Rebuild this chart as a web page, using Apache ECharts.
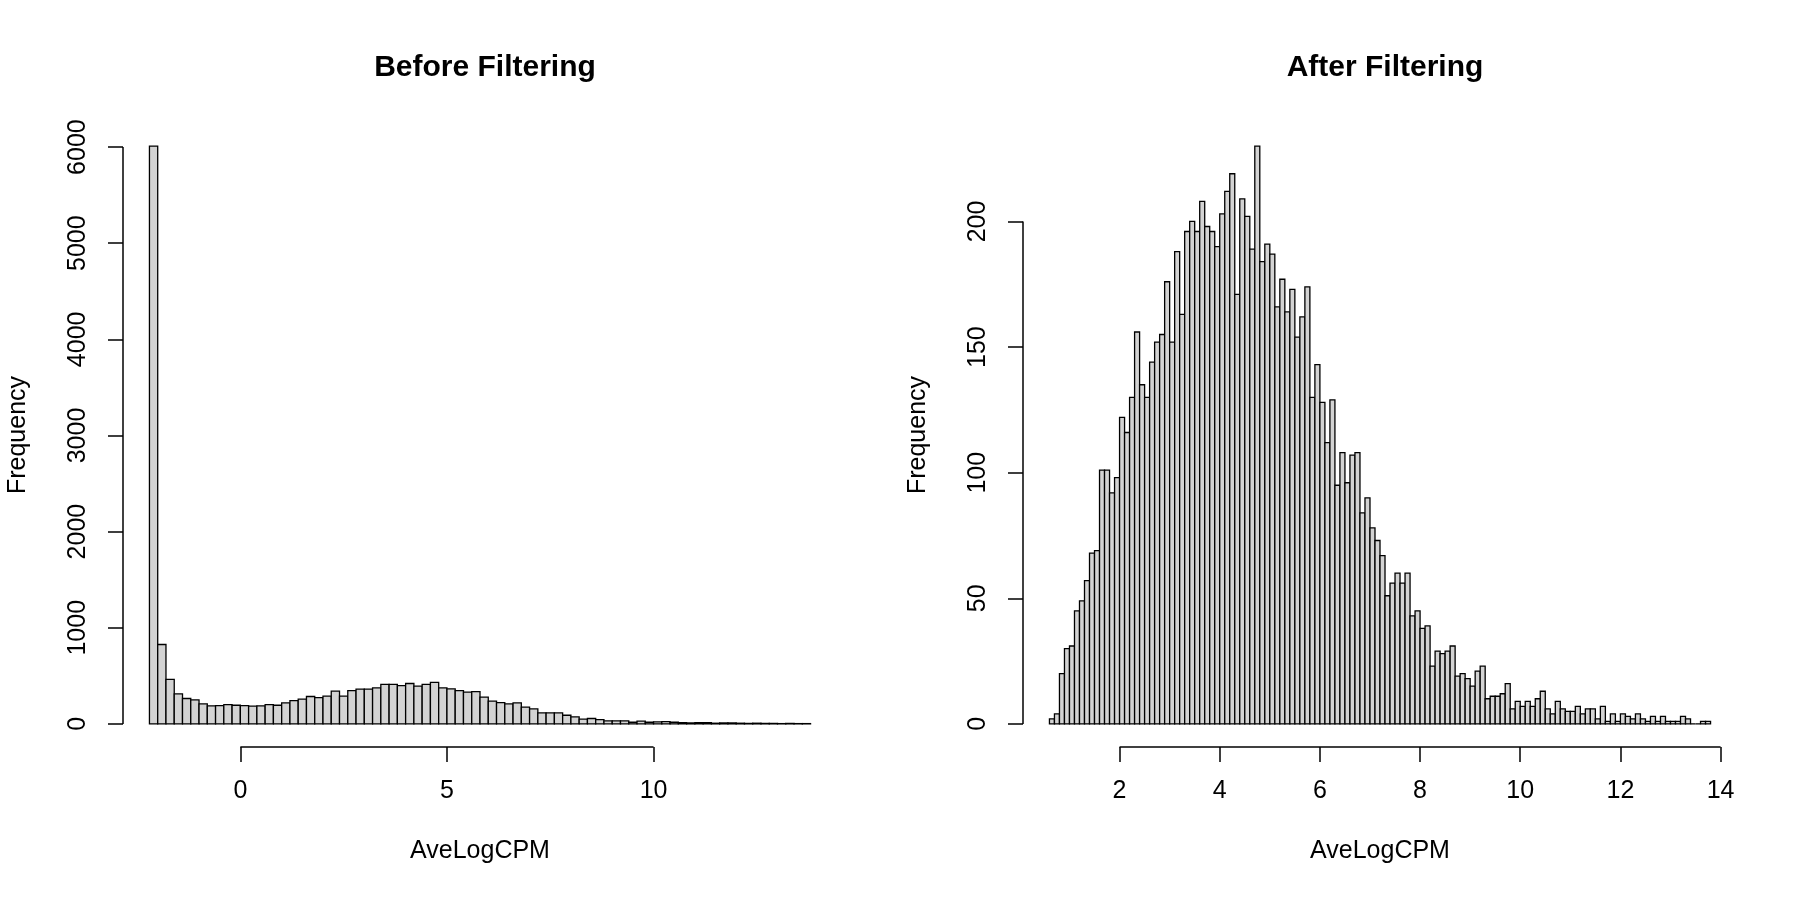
<!DOCTYPE html>
<html>
<head>
<meta charset="utf-8">
<script src="https://cdn.jsdelivr.net/npm/echarts@6/dist/echarts.min.js"></script>
<style>
  html, body { margin: 0; padding: 0; background: #fff; }
  #main { width: 1800px; height: 900px; }
</style>
</head>
<body>
<div id="main"></div>
<script>
// histogram bins: first break and bin width
var beforeStart = -2.2, beforeWidth = 0.2;
var afterStart = 0.6, afterWidth = 0.1;

// counts per bin
var beforeCounts = [
  6010, 826, 462, 312, 264, 250, 208, 188, 191, 201,
  194, 191, 184, 188, 201, 194, 219, 243, 257, 285,
  274, 288, 340, 288, 347, 361, 361, 375, 410, 410,
  399, 420, 392, 410, 431, 375, 365, 347, 330, 335,
  278, 236, 222, 208, 219, 174, 156, 115, 115, 115,
  90, 73, 49, 56, 45, 31, 31, 31, 17, 28,
  17, 21, 24, 17, 14, 10, 14, 14, 7, 10,
  10, 7, 5, 7, 5, 5, 3, 5, 3, 3
];
var afterCounts = [
  2, 4, 20, 30, 31, 45, 49, 57, 68, 69,
  101, 101, 92, 98, 122, 116, 130, 156, 135, 130,
  144, 152, 155, 176, 152, 188, 163, 196, 200, 196,
  208, 198, 196, 190, 203, 212, 219, 171, 209, 202,
  189, 230, 184, 191, 187, 166, 177, 164, 173, 154,
  162, 174, 130, 143, 128, 112, 129, 95, 108, 96,
  107, 108, 84, 90, 78, 73, 67, 51, 56, 60,
  56, 60, 43, 45, 38, 39, 23, 29, 28, 29,
  31, 19, 20, 18, 15, 21, 23, 10, 11, 11,
  12, 16, 6, 9, 7, 9, 7, 10, 13, 6,
  4, 9, 6, 5, 5, 7, 4, 6, 6, 2,
  7, 1, 4, 1, 4, 3, 2, 4, 2, 1,
  3, 1, 3, 1, 1, 1, 3, 2, 0, 0,
  1, 1
];

// tick labels
var beforeXTicks = [0, 5, 10];
var beforeYTicks = [0, 1000, 2000, 3000, 4000, 5000, 6000];
var afterXTicks = [2, 4, 6, 8, 10, 12, 14];
var afterYTicks = [0, 50, 100, 150, 200];

var FONT = 'Liberation Sans';

function toBins(start, width, counts) {
  return counts.map(function (c, i) {
    var x0 = +(start + i * width).toFixed(4);
    var x1 = +(start + (i + 1) * width).toFixed(4);
    return [x0, x1, c];
  });
}

// R style: pad the data range by 4% on both sides
function padRange(lo, hi) {
  var d = (hi - lo) * 0.04;
  return [lo - d, hi + d];
}

function plain(v) { return String(v); }

function renderHist(params, api) {
  var top = api.coord([api.value(0), api.value(2)]);
  var bot = api.coord([api.value(1), 0]);
  return {
    type: 'rect',
    shape: { x: top[0], y: top[1], width: bot[0] - top[0], height: bot[1] - top[1] },
    style: { fill: '#d3d3d3', stroke: '#000', lineWidth: 1.3 }
  };
}

function xAxisFor(idx, range, ticks) {
  return {
    type: 'value', gridIndex: idx, min: range[0], max: range[1],
    name: 'AveLogCPM', nameLocation: 'middle', nameGap: 92,
    nameTextStyle: { fontFamily: FONT, fontSize: 25, color: '#000' },
    axisLine: { show: false, onZero: false },
    splitLine: { show: false },
    axisTick: { show: true, customValues: ticks, length: 15, lineStyle: { color: '#000', width: 1.5 } },
    axisLabel: { customValues: ticks, margin: 32, formatter: plain,
      fontFamily: FONT, fontSize: 25, color: '#000' }
  };
}

function yAxisFor(idx, range, ticks) {
  return {
    type: 'value', gridIndex: idx, min: range[0], max: range[1],
    name: 'Frequency', nameLocation: 'middle', nameGap: 92, nameRotate: 90,
    nameTextStyle: { fontFamily: FONT, fontSize: 25, color: '#000' },
    axisLine: { show: false, onZero: false },
    splitLine: { show: false },
    axisTick: { show: true, customValues: ticks, length: 15, lineStyle: { color: '#000', width: 1.5 } },
    axisLabel: { customValues: ticks, margin: 32, rotate: 90, formatter: plain,
      fontFamily: FONT, fontSize: 25, color: '#000' }
  };
}

// axis line only spans first to last tick, like R
function axisLines(idx, xr, yr, xt, yt) {
  var st = { color: '#000', width: 1.5 };
  return [
    { type: 'line', xAxisIndex: idx, yAxisIndex: idx, clip: false, symbol: 'none', silent: true,
      lineStyle: st, data: [[xt[0], yr[0]], [xt[xt.length - 1], yr[0]]] },
    { type: 'line', xAxisIndex: idx, yAxisIndex: idx, clip: false, symbol: 'none', silent: true,
      lineStyle: st, data: [[xr[0], yt[0]], [xr[0], yt[yt.length - 1]]] }
  ];
}

var beforeBins = toBins(beforeStart, beforeWidth, beforeCounts);
var afterBins = toBins(afterStart, afterWidth, afterCounts);

var bxr = padRange(beforeBins[0][0], beforeBins[beforeBins.length - 1][1]);
var byr = padRange(0, Math.max.apply(null, beforeCounts));
var axr = padRange(afterBins[0][0], afterBins[afterBins.length - 1][1]);
var ayr = padRange(0, Math.max.apply(null, afterCounts));

var chart = echarts.init(document.getElementById('main'), null, { renderer: 'canvas' });
chart.setOption({
  animation: false,
  backgroundColor: '#fff',
  title: [
    { text: 'Before Filtering', left: 480, top: 48, textAlign: 'center',
      textStyle: { fontFamily: FONT, fontSize: 30, fontWeight: 'bold', color: '#000' } },
    { text: 'After Filtering', left: 1380, top: 48, textAlign: 'center',
      textStyle: { fontFamily: FONT, fontSize: 30, fontWeight: 'bold', color: '#000' } }
  ],
  grid: [
    { left: 123, top: 123, width: 714, height: 624 },
    { left: 1023, top: 123, width: 714, height: 624 }
  ],
  xAxis: [xAxisFor(0, bxr, beforeXTicks), xAxisFor(1, axr, afterXTicks)],
  yAxis: [yAxisFor(0, byr, beforeYTicks), yAxisFor(1, ayr, afterYTicks)],
  series: [
    { type: 'custom', xAxisIndex: 0, yAxisIndex: 0, renderItem: renderHist,
      encode: { x: [0, 1], y: 2 }, data: beforeBins },
    { type: 'custom', xAxisIndex: 1, yAxisIndex: 1, renderItem: renderHist,
      encode: { x: [0, 1], y: 2 }, data: afterBins }
  ].concat(axisLines(0, bxr, byr, beforeXTicks, beforeYTicks))
   .concat(axisLines(1, axr, ayr, afterXTicks, afterYTicks))
});
</script>
</body>
</html>
